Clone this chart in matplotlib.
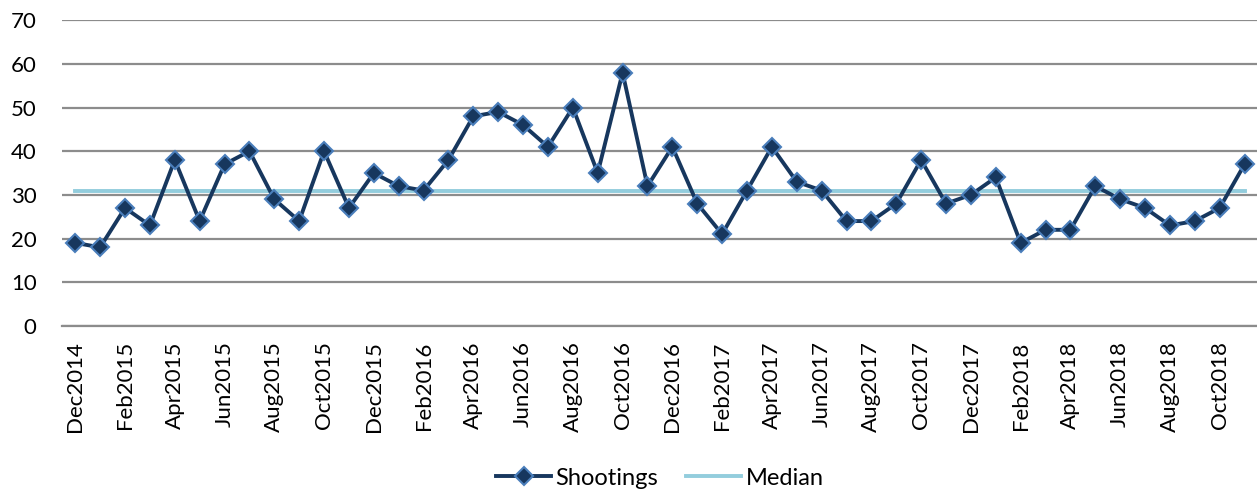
import matplotlib
matplotlib.use("Agg")
import matplotlib.pyplot as plt

months = ["Dec2014","Jan2015","Feb2015","Mar2015","Apr2015","May2015","Jun2015","Jul2015","Aug2015","Sep2015","Oct2015","Nov2015",
          "Dec2015","Jan2016","Feb2016","Mar2016","Apr2016","May2016","Jun2016","Jul2016","Aug2016","Sep2016","Oct2016","Nov2016",
          "Dec2016","Jan2017","Feb2017","Mar2017","Apr2017","May2017","Jun2017","Jul2017","Aug2017","Sep2017","Oct2017","Nov2017",
          "Dec2017","Jan2018","Feb2018","Mar2018","Apr2018","May2018","Jun2018","Jul2018","Aug2018","Sep2018","Oct2018","Nov2018"]
shootings = [19,18,27,23,38,24,37,40,29,24,40,27,
             35,32,31,38,48,49,46,41,50,35,58,32,
             41,28,21,31,41,33,31,24,24,28,38,28,
             30,34,19,22,22,32,29,27,23,24,27,37]
median = [31]*len(months)
yticks = [0,10,20,30,40,50,60,70]

plt.rcParams['font.family'] = ['Lato', 'DejaVu Sans']
fig = plt.figure(figsize=(12.57,4.93), dpi=100)
ax = fig.add_axes([0.049, 0.339, 0.951, 0.62])
x = list(range(len(months)))
ax.plot(x, shootings, color='#17375E', lw=2.8, marker='D', ms=9.5,
        markerfacecolor='#17375E', markeredgecolor='#4A7EBB', markeredgewidth=1.5,
        label='Shootings', zorder=3)
ax.plot(x, median, color='#93CDDD', lw=2.8, label='Median', zorder=2)
ax.set_xlim(-0.55, 47.5)
ax.set_ylim(0, 70)
ax.set_yticks(yticks)
ax.set_yticklabels([str(v) for v in yticks], fontsize=16)
ax.set_xticks(x[::2])
ax.set_xticklabels(months[::2], rotation=90, fontsize=16)
ax.grid(axis='y', color='#8C8C8C', lw=1.6)
ax.set_axisbelow(True)
for s in ['top','right','left']:
    ax.spines[s].set_visible(False)
ax.spines['bottom'].set_color('#8C8C8C')
ax.spines['bottom'].set_linewidth(1.6)
ax.tick_params(axis='y', length=0, pad=18)
ax.tick_params(axis='x', length=0, pad=11)
fig.legend(loc='center', bbox_to_anchor=(0.525, 0.03), ncol=2, frameon=False,
           fontsize=17, handlelength=2.3, columnspacing=1.2, handletextpad=0.2)
fig.savefig('out.png', dpi=100)
